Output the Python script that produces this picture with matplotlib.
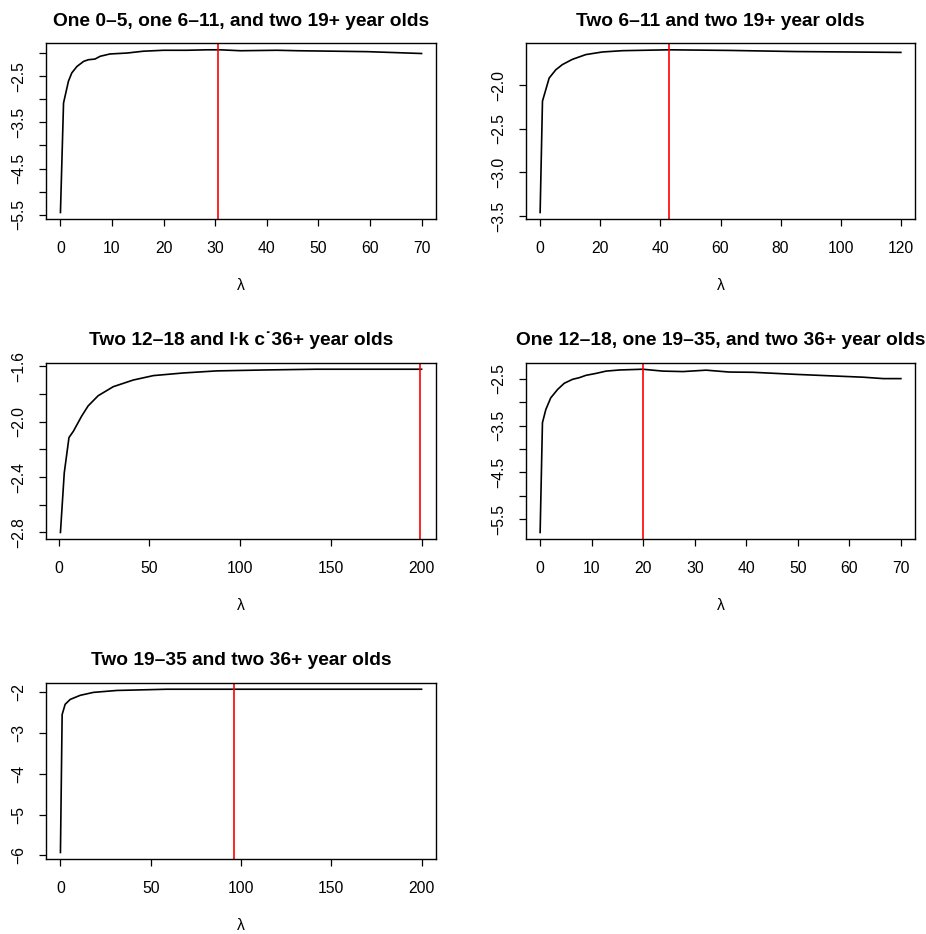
import matplotlib
matplotlib.use("Agg")
import matplotlib.pyplot as plt
import numpy as np

plt.rcParams['font.family'] = ['Liberation Sans', 'DejaVu Sans']
plt.rcParams['axes.unicode_minus'] = True

titles = [
    "One 0–5, one 6–11, and two 19+ year olds",
    "Two 6–11 and two 19+ year olds",
    "Two 12–18 and ŀk c˙36+ year olds",
    "One 12–18, one 19–35, and two 36+ year olds",
    "Two 19–35 and two 36+ year olds",
]

lam1 = [0, 0.6, 1.55, 2.2, 3.2, 4.5, 5.4, 6.7, 7.7, 9.6, 12.9, 16.1, 20, 24.5, 28.4, 31, 34.9, 42, 46, 53, 59.5, 70]
val1 = [-5.45, -3.08, -2.61, -2.43, -2.29, -2.18, -2.145, -2.13, -2.07, -2.02, -2.0, -1.96, -1.94, -1.94, -1.93, -1.93, -1.95, -1.94, -1.95, -1.96, -1.97, -2.01]
best1 = 30.5

lam2 = [0, 0.78, 3, 5.2, 7.4, 10.7, 15.2, 20.7, 27.4, 42.9, 62.9, 85, 120]
val2 = [-3.46, -2.18, -1.915, -1.82, -1.76, -1.70, -1.645, -1.615, -1.60, -1.59, -1.597, -1.61, -1.62]
best2 = 43.0

lam3 = [1, 3.1, 5.7, 8.1, 12.7, 16.3, 21.8, 30.1, 41.1, 52.2, 68.7, 87.1, 115, 142, 200]
val3 = [-2.80, -2.37, -2.115, -2.07, -1.96, -1.886, -1.813, -1.748, -1.70, -1.668, -1.649, -1.634, -1.627, -1.622, -1.622]
best3 = 199

lam4 = [0, 0.45, 1.1, 2.06, 3.4, 4.67, 6.3, 7.6, 8.9, 10.8, 12.8, 15.4, 19.9, 23.8, 27.7, 32.2, 36.7, 41.2, 49.7, 56.2, 62.7, 66.6, 70]
val4 = [-5.78, -3.44, -3.16, -2.91, -2.73, -2.60, -2.515, -2.48, -2.43, -2.39, -2.34, -2.316, -2.30, -2.34, -2.35, -2.32, -2.36, -2.365, -2.41, -2.44, -2.47, -2.50, -2.50]
best4 = 20

lam5 = [0, 0.94, 2.6, 5.4, 10.9, 18.3, 31.3, 59, 200]
val5 = [-5.93, -2.55, -2.30, -2.18, -2.08, -2.007, -1.96, -1.93, -1.93]
best5 = 96

xticks = [np.arange(0, 71, 10), np.arange(0, 121, 20), np.arange(0, 201, 50), np.arange(0, 71, 10), np.arange(0, 201, 50)]
yticks = [
    [-2.0, -2.5, -3.0, -3.5, -4.0, -4.5, -5.0, -5.5],
    [-2.0, -2.5, -3.0, -3.5],
    [-1.6, -1.8, -2.0, -2.2, -2.4, -2.6, -2.8],
    [-2.5, -3.0, -3.5, -4.0, -4.5, -5.0, -5.5],
    [-2, -3, -4, -5, -6],
]
ylabels = [
    ["", "−2.5", "", "−3.5", "", "−4.5", "", "−5.5"],
    ["−2.0", "−2.5", "−3.0", "−3.5"],
    ["−1.6", "", "−2.0", "", "−2.4", "", "−2.8"],
    ["−2.5", "", "−3.5", "", "−4.5", "", "−5.5"],
    ["−2", "−3", "−4", "−5", "−6"],
]

lams = [lam1, lam2, lam3, lam4, lam5]
vals = [val1, val2, val3, val4, val5]
bests = [best1, best2, best3, best4, best5]

W, H = 926, 934
fig = plt.figure(figsize=(W / 100, H / 100), dpi=100)

cols = [(46, 436), (525.7, 915.3)]
rows = [(43.3, 219), (362.7, 539), (682.7, 859)]

def pad_lim(a):
    lo, hi = min(a), max(a)
    d = (hi - lo) * 0.04
    return lo - d, hi + d

for i in range(5):
    r, c = divmod(i, 2)
    x0, x1 = cols[c]
    t, b = rows[r]
    ax = fig.add_axes([x0 / W, 1 - b / H, (x1 - x0) / W, (b - t) / H])
    ax.plot(lams[i], vals[i], color='black', lw=1.2)
    ax.axvline(bests[i], color='#ff0000', lw=1.2)
    ax.set_xlim(*pad_lim(lams[i]))
    ax.set_ylim(*pad_lim(vals[i]))
    ax.set_xticks(xticks[i])
    ax.set_xticklabels([str(v) for v in xticks[i]])
    ax.set_yticks(yticks[i])
    ax.set_yticklabels(ylabels[i], rotation=90, va='center')
    ax.tick_params(axis='both', direction='out', length=5, width=0.9, labelsize=11.3, colors='black')
    ax.tick_params(axis='x', pad=10.5)
    ax.tick_params(axis='y', pad=9)
    for s in ax.spines.values():
        s.set_linewidth(1.0)
        s.set_color('black')
    ax.set_title(titles[i], fontsize=13.8, fontweight='bold', pad=12.5)
    ax.set_xlabel("λ", fontsize=11.3, labelpad=16.5)

fig.savefig("out.png", dpi=100)
